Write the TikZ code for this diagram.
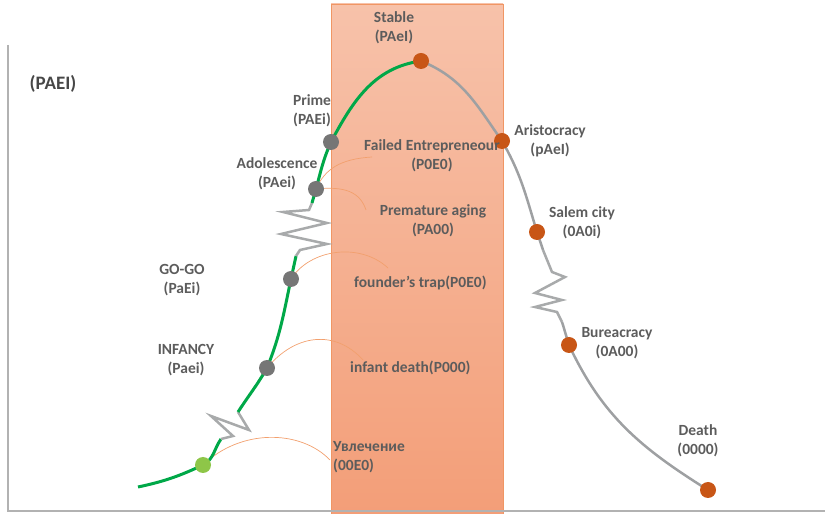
\documentclass[tikz,border=0pt]{standalone}
\usepackage{fontspec}
\setmainfont{Carlito}
\usepackage{tikz}
\usetikzlibrary{positioning,calc,backgrounds}
\definecolor{lcgreen}{RGB}{0,168,72}
\definecolor{lcgray}{RGB}{158,160,162}
\definecolor{axisgray}{RGB}{178,178,178}
\definecolor{txtgray}{RGB}{92,92,92}
\definecolor{stagegray}{RGB}{118,118,118}
\definecolor{stageorange}{RGB}{200,86,22}
\definecolor{stagelime}{RGB}{142,198,72}
\definecolor{trapline}{RGB}{242,160,110}
\definecolor{zonetop}{RGB}{247,194,170}
\definecolor{zonebot}{RGB}{243,158,120}
\definecolor{zoneedge}{RGB}{240,150,100}
\tikzset{
  stage/.style={circle, fill=#1, minimum size=16pt, inner sep=0pt},
  lbl/.style={align=center, text=txtgray, inner sep=0pt,
              font=\fontsize{15.5}{19}\selectfont\bfseries},
  growth/.style={draw=lcgreen, line width=3pt},
  decline/.style={draw=lcgray, line width=2.5pt},
  brk/.style={draw=lcgray!90, line width=2.5pt, line join=miter},
  trap/.style={draw=trapline, line width=0.7pt},
}

\begin{document}
\begin{tikzpicture}[x=1pt, y=1pt]
    \useasboundingbox (0,0) rectangle (825,514);
    % stages of the curve
    \node[stage=stagelime] (court) at (203,49) {};
    \node[stage=stagegray] (infancy) at (267,146) {};
    \node[stage=stagegray] (gogo) at (291,235) {};
    \node[stage=stagegray] (adol) at (316,325) {};
    \node[stage=stagegray] (prime) at (331,372) {};
    \node[stage=stageorange] (stable) at (421,453) {};
    \node[stage=stageorange] (aristo) at (502,373) {};
    \node[stage=stageorange] (salem) at (537,282) {};
    \node[stage=stageorange] (bureau) at (569,169) {};
    \node[stage=stageorange] (death) at (708,24) {};
    % labels
    \node[lbl, font=\fontsize{19}{22}\selectfont\bfseries, text=black!72] (paei) at (53,430) {(PAEI)};
    \node[lbl] (lstable) at (394,486.5) {Stable\\(PAeI)};
    \node[lbl] (lprime) at (312,403) {Prime\\(PAEi)};
    \node[lbl] (ladol) at (277,340) {Adolescence\\(PAei)};
    \node[lbl] (lgogo) at (182,234) {GO-GO\\(PaEi)};
    \node[lbl] (linfancy) at (186,154) {INFANCY\\(Paei)};
    \node[lbl, align=left, anchor=west] (lcourt) at (333,56.5) {Увлечение\\(00E0)};
    \node[lbl, anchor=west] (linfdeath) at (350,146) {infant death(P000)};
    \node[lbl, anchor=west] (lfounder) at (354,231) {founder's trap(P0E0)};
    \node[lbl] (lpremat) at (433,293) {Premature aging\\(PA00)};
    \node[lbl] (lfailed) at (432,358.5) {Failed Entrepreneour\\(P0E0)};
    \node[lbl, right=4pt of aristo] (laristo) {Aristocracy\\(pAeI)};
    \node[lbl] (lsalem) at (582,291) {Salem city\\(0A0i)};
    \node[lbl] (lbureau) at (617,171) {Bureacracy\\(0A00)};
    \node[lbl] (ldeath) at (698,73) {Death\\(0000)};
    % free ends
    \coordinate (s0) at (138,27);
    \coordinate (b1lo) at (221,75);
    \coordinate (b1hi) at (238,102);
    \coordinate (b2lo) at (296,258);
    \coordinate (b2hi) at (312,311);
    \coordinate (b3hi) at (543,264);
    \coordinate (b3lo) at (562,192);
    \coordinate (courtend) at (330,54);
    \coordinate (infend) at (363,154);
    \coordinate (gogoend) at (388,246);
    \coordinate (prematend) at (366,304);
    \coordinate (failend) at (372,357);
    \coordinate (ytop) at (8,469);
    \coordinate (orig) at (8,3);
    \coordinate (xend) at (825,3);
    \begin{scope}[on background layer]
      \shadedraw[top color=zonetop, bottom color=zonebot, draw=zoneedge, line width=0.8pt]
        (331,0) rectangle (503,510);
      \draw[axisgray, line width=1.6pt] (ytop) -- (orig) -- (xend);
      % traps
      \draw[trap] (court.center) .. controls (240,85) and (300,85) .. (courtend);
      \draw[trap] (infancy.center) .. controls (295,180) and (335,185) .. (infend);
      \draw[trap] (gogo.center) .. controls (310,265) and (360,272) .. (gogoend);
      \draw[trap] (adol.center) .. controls (345,328) and (360,322) .. (prematend);
      \draw[trap] (adol.center) .. controls (325,345) and (340,355) .. (failend);
      % growing side
      \draw[growth] (s0) to[out=12,in=205] (court.center) to[out=28,in=235] (b1lo);
      \draw[brk] (b1hi) -- ++(11,-18) -- ++(-38,14) -- ++(22,-20) -- (b1lo);
      \draw[growth] (b1hi) to[out=57,in=240] (infancy.center) to[out=68,in=258] (gogo.center)
        to[out=78,in=258] (b2lo);
      \draw[brk] (b2hi) -- ++(-3,-7) -- ++(-26,-2) -- ++(44,-11) -- ++(-46,-11)
        -- ++(46,-10) -- ++(-27,-6) -- (b2lo);
      \draw[growth] (b2hi) to[out=75,in=255] (adol.center) to[out=75,in=246] (prime.center)
        to[out=62,in=188] (stable.center);
      % declining side
      \draw[decline] (stable.center) to[out=-22,in=125] (aristo.center) to[out=-60,in=107] (salem.center)
        to[out=-73,in=107] (b3hi);
      \draw[brk] (b3hi) -- ++(9,-22) -- ++(13,-5) -- ++(-30,-16) -- ++(27,-7) -- ++(-27,-7)
        -- ++(22,-5) -- (b3lo);
      \draw[decline] (b3lo) to[out=-72,in=108] (bureau.center) to[out=-65,in=148] (death.center);
    \end{scope}
\end{tikzpicture}
\end{document}
